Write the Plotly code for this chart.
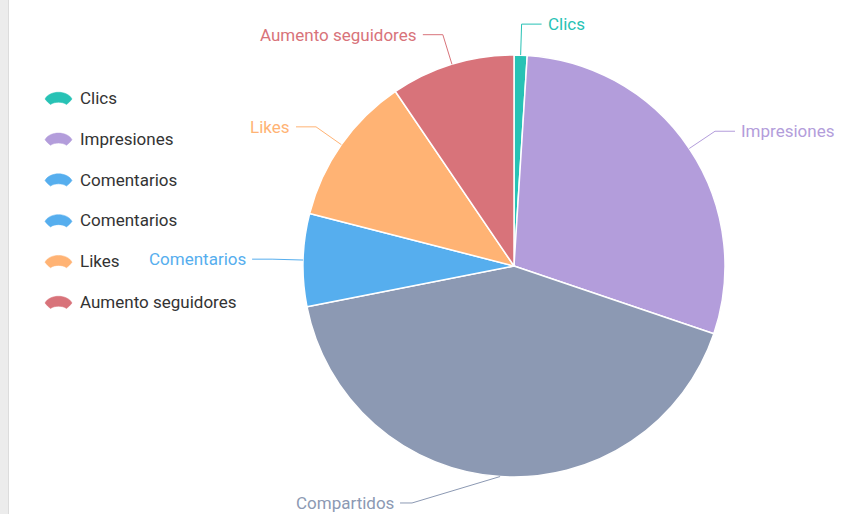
import math
import plotly.graph_objects as go

# Slice data, clockwise from 12 o'clock
labels = ["Clics", "Impresiones", "Compartidos", "Comentarios", "Likes", "Aumento seguidores"]
values = [10, 292, 417, 71, 115, 95]

# Legend entries as listed beside the chart
legend_labels = ["Clics", "Impresiones", "Comentarios", "Comentarios", "Likes", "Aumento seguidores"]

# Styling
W, H = 857, 514
colors = {
    "Clics": "#27c2b5",
    "Impresiones": "#b39ddb",
    "Compartidos": "#8c99b3",
    "Comentarios": "#56aeee",
    "Likes": "#ffb374",
    "Aumento seguidores": "#d8737a",
}
FONT = "Roboto, Arial, sans-serif"
CX, CY, R = 514, 266, 211          # pie centre / radius in pixels
ELBOW = 31                          # radial length of connector
HSEG = 20                           # horizontal connector length
label_nudge = {"Compartidos": (-78, -4.5)}  # label moved to stay inside the canvas


def px(x):
    return x / W


def py(y):
    return 1 - y / H


fig = go.Figure()
fig.add_trace(go.Pie(
    labels=labels,
    values=values,
    sort=False,
    direction="clockwise",
    rotation=0,
    textinfo="none",
    hoverinfo="label+value+percent",
    marker=dict(colors=[colors[l] for l in labels], line=dict(color="white", width=1.5)),
    domain=dict(x=[px(CX - R), px(CX + R)], y=[py(CY + R), py(CY - R)]),
    showlegend=False,
))

shapes = []
annotations = []

# Card edge on the left
shapes.append(dict(type="rect", xref="paper", yref="paper", x0=0, x1=px(8), y0=0, y1=1,
                   fillcolor="#ececec", line=dict(width=0), layer="below"))
shapes.append(dict(type="line", xref="paper", yref="paper", x0=px(8.5), x1=px(8.5), y0=0, y1=1,
                   line=dict(color="#dcdcdc", width=1), layer="below"))

# Outside labels with connectors, placed from each slice's mid angle
total = float(sum(values))
start = 0.0
for lab, val in zip(labels, values):
    sweep = 360.0 * val / total
    mid = math.radians(start + sweep / 2)
    start += sweep
    sx, sy = math.sin(mid), -math.cos(mid)
    ex, ey = CX + R * sx, CY + R * sy
    bx, by = CX + (R + ELBOW) * sx, CY + (R + ELBOW) * sy
    side = 1 if sx >= 0 else -1
    ax, ay = bx + side * HSEG, by
    if lab in label_nudge:
        dx, dy = label_nudge[lab]
        ax, ay = ax + dx, ay + dy
        bx, by = ax - side * 12, ay
    path = "M {},{} L {},{} L {},{}".format(px(ex), py(ey), px(bx), py(by), px(ax), py(ay))
    shapes.append(dict(type="path", xref="paper", yref="paper", path=path,
                       line=dict(color=colors[lab], width=1)))
    annotations.append(dict(
        x=px(ax + side * 4), y=py(ay), xref="paper", yref="paper",
        text=lab, showarrow=False, xanchor="left" if side > 0 else "right", yanchor="middle",
        font=dict(family=FONT, size=17, color=colors[lab]),
    ))

# Legend: fan-shaped swatches with labels
LEG_X, LEG_Y0, LEG_DY = 58.5, 98, 40.8
for i, lab in enumerate(legend_labels):
    cy = LEG_Y0 + i * LEG_DY
    cx = LEG_X
    pts = [
        ("M", [(cx - 13.5, cy + 1)]),
        ("C", [(cx - 9, cy - 8), (cx + 9, cy - 8), (cx + 13.5, cy + 1)]),
        ("C", [(cx + 12, cy + 3), (cx + 10, cy + 5), (cx + 8, cy + 6.5)]),
        ("C", [(cx + 4, cy + 3.5), (cx - 4, cy + 3.5), (cx - 8, cy + 6.5)]),
        ("C", [(cx - 10, cy + 5), (cx - 12, cy + 3), (cx - 13.5, cy + 1)]),
    ]
    path = ""
    for cmd, p in pts:
        path += cmd + " " + " ".join("{},{}".format(px(x), py(y)) for x, y in p) + " "
    path += "Z"
    shapes.append(dict(type="path", xref="paper", yref="paper", path=path,
                       fillcolor=colors[lab], line=dict(color=colors[lab], width=0.5)))
    annotations.append(dict(
        x=px(78), y=py(cy), xref="paper", yref="paper", text=lab, showarrow=False,
        xanchor="left", yanchor="middle",
        font=dict(family=FONT, size=17, color="#333333"),
    ))

fig.update_layout(
    width=W, height=H,
    margin=dict(l=0, r=0, t=0, b=0),
    paper_bgcolor="white",
    plot_bgcolor="white",
    shapes=shapes,
    annotations=annotations,
    showlegend=False,
)

fig.write_html("out.html")
